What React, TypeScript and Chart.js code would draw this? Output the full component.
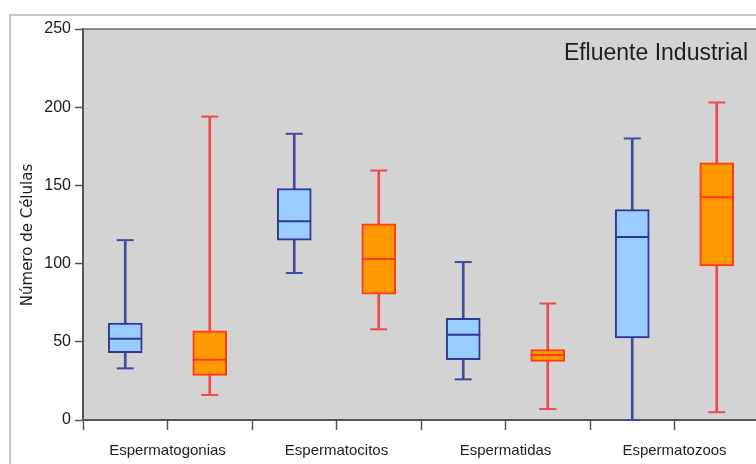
import React, { useEffect, useRef } from "react";
import { Chart, registerables } from "chart.js";

Chart.register(...registerables);

const categories = ["Espermatogonias", "Espermatocitos", "Espermatidas", "Espermatozoos"];
const chartTitle = "Efluente Industrial";
const yAxisTitle = "Número de Células";

// Blue series (first box of each pair)
const blueMin = [33, 94, 26, 0];
const blueQ1 = [43, 115, 38.5, 52.5];
const blueMedian = [52, 127, 54.5, 117];
const blueQ3 = [62, 148, 65, 134.5];
const blueMax = [115, 183, 101, 180];

// Orange series (second box of each pair)
const orangeMin = [16, 58, 7, 5];
const orangeQ1 = [28.5, 80.5, 37.5, 98.5];
const orangeMedian = [38.5, 103, 41.5, 142.5];
const orangeQ3 = [57, 125.5, 45, 164.5];
const orangeMax = [194, 159.5, 74.5, 203];

const yMin = 0;
const yMax = 250;
const yStep = 50;

const CANVAS_W = 780;
const CANVAS_H = 464;

export default function App() {
  const ref = useRef<HTMLCanvasElement | null>(null);

  useEffect(() => {
    if (!ref.current) return;
    const bluePos = categories.map((_, i) => i * 2 + 0.5);
    const orangePos = categories.map((_, i) => i * 2 + 1.5);

    const blue = { fill: "#99ccff", border: "#2f3994", whisker: "#434ba0", median: "#2f3994" };
    const orange = { fill: "#ff9900", border: "#ff3b17", whisker: "#f04a4a", median: "#ff3b17" };

    const whisker = (pos: number[], lo: number[], hi: number[], color: string) => ({
      type: "bar" as const,
      data: pos.map((x, i) => ({ x, y: [lo[i], hi[i]] })),
      backgroundColor: color,
      borderWidth: 0,
      barThickness: 2,
      grouped: false,
      order: 4,
    });
    const caps = (pos: number[], lo: number[], hi: number[], color: string) => ({
      type: "line" as const,
      data: [...pos.map((x, i) => ({ x, y: lo[i] })), ...pos.map((x, i) => ({ x, y: hi[i] }))],
      showLine: false,
      pointStyle: "line",
      pointRadius: 8.5,
      pointHoverRadius: 8.5,
      pointBorderWidth: 2,
      pointBorderColor: color,
      clip: false,
      order: 3,
    });
    const boxes = (pos: number[], q1: number[], q3: number[], c: any) => ({
      type: "bar" as const,
      data: pos.map((x, i) => ({ x, y: [q1[i], q3[i]] })),
      backgroundColor: c.fill,
      borderColor: c.border,
      borderWidth: 2,
      borderSkipped: false,
      barThickness: 34,
      grouped: false,
      order: 2,
    });
    const medians = (pos: number[], med: number[], color: string) => ({
      type: "line" as const,
      data: pos.map((x, i) => ({ x, y: med[i] })),
      showLine: false,
      pointStyle: "line",
      pointRadius: 17,
      pointHoverRadius: 17,
      pointBorderWidth: 2,
      pointBorderColor: color,
      clip: false,
      order: 1,
    });

    const decor = {
      id: "decor",
      beforeDraw(chart: any) {
        const { ctx, chartArea } = chart;
        ctx.save();
        ctx.fillStyle = "#ffffff";
        ctx.fillRect(0, 0, chart.width, chart.height);
        ctx.strokeStyle = "#c6c6c6";
        ctx.lineWidth = 2;
        ctx.strokeRect(10, 15, 2000, 2000);
        ctx.fillStyle = "#d3d3d3";
        ctx.fillRect(chartArea.left, chartArea.top, chartArea.right - chartArea.left, chartArea.bottom - chartArea.top);
        ctx.restore();
      },
      afterDraw(chart: any) {
        const { ctx, chartArea } = chart;
        ctx.save();
        ctx.strokeStyle = "#6a6a6a";
        ctx.lineWidth = 1.5;
        ctx.beginPath();
        ctx.moveTo(chartArea.left, chartArea.top);
        ctx.lineTo(chartArea.right, chartArea.top);
        ctx.stroke();

        ctx.fillStyle = "#1e1e1e";
        ctx.font = "23px 'Liberation Sans', Arial, sans-serif";
        ctx.textAlign = "right";
        ctx.textBaseline = "alphabetic";
        ctx.fillText(chartTitle, 748, 60);

        ctx.translate(28, 235);
        ctx.rotate(-Math.PI / 2);
        ctx.font = "15px 'DejaVu Sans', sans-serif";
        ctx.textAlign = "center";
        ctx.textBaseline = "middle";
        ctx.fillText(yAxisTitle, 0, 0);
        ctx.restore();
      },
    };

    const chart = new Chart(ref.current, {
      type: "bar",
      data: {
        datasets: [
          whisker(bluePos, blueMin, blueMax, blue.whisker),
          whisker(orangePos, orangeMin, orangeMax, orange.whisker),
          caps(bluePos, blueMin, blueMax, blue.whisker),
          caps(orangePos, orangeMin, orangeMax, orange.whisker),
          boxes(bluePos, blueQ1, blueQ3, blue),
          boxes(orangePos, orangeQ1, orangeQ3, orange),
          medians(bluePos, blueMedian, blue.median),
          medians(orangePos, orangeMedian, orange.median),
        ] as any,
      },
      options: {
        responsive: false,
        animation: false,
        events: [],
        layout: { padding: { top: 29, right: CANVAS_W - 759, left: 0, bottom: 0 } },
        plugins: { legend: { display: false }, tooltip: { enabled: false } },
        scales: {
          x: {
            type: "linear",
            offset: false,
            min: 0,
            max: categories.length * 2,
            afterFit: (s: any) => {
              s.height = 44;
            },
            ticks: {
              stepSize: 1,
              autoSkip: false,
              maxRotation: 0,
              padding: 12,
              color: "#222",
              font: { family: "'Liberation Sans', Arial, sans-serif", size: 15 },
              callback: (v: any) => {
                const n = Number(v);
                return n % 2 === 1 ? categories[(n - 1) / 2] : "";
              },
            },
            grid: { offset: false, drawOnChartArea: false, drawTicks: true, tickLength: 10, tickColor: "#555", tickWidth: 1.5 },
            border: { display: true, color: "#555", width: 2 },
          },
          y: {
            type: "linear",
            min: yMin,
            max: yMax,
            afterFit: (s: any) => {
              s.width = 83;
            },
            ticks: {
              stepSize: yStep,
              padding: 4,
              color: "#1a1a1a",
              font: { family: "'Liberation Sans', Arial, sans-serif", size: 16 },
            },
            grid: { drawOnChartArea: false, drawTicks: true, tickLength: 8, tickColor: "#555", tickWidth: 1.5 },
            border: { display: true, color: "#555", width: 2 },
          },
        },
      } as any,
      plugins: [decor],
    });
    return () => chart.destroy();
  }, []);

  return (
    <div style={{ position: "fixed", left: 0, top: 0, width: 756, height: 464, overflow: "hidden", background: "#fff" }}>
      <canvas ref={ref} width={CANVAS_W} height={CANVAS_H} style={{ display: "block", width: CANVAS_W, height: CANVAS_H }} />
    </div>
  );
}
